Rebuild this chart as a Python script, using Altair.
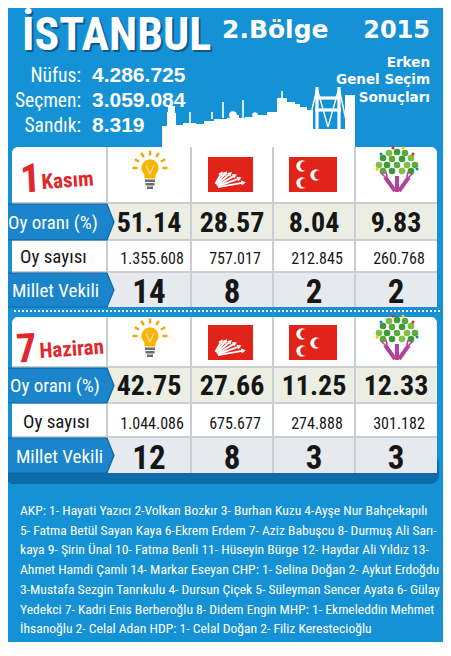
import math
import altair as alt
import pandas as pd

# ---------------- data ----------------
parties = ["AKP", "CHP", "MHP", "HDP"]
kasim_oran = [51.14, 28.57, 8.04, 9.83]
kasim_sayi = [1355608, 757017, 212845, 260768]
kasim_mv = [14, 8, 2, 2]
haziran_oran = [42.75, 27.66, 11.25, 12.33]
haziran_sayi = [1044086, 675677, 274888, 301182]
haziran_mv = [12, 8, 3, 3]
row_labels = ["Oy oranı (%)", "Oy sayısı", "Millet Vekili"]
stat_labels = ["Nüfus:", "Seçmen:", "Sandık:"]
stat_values = [4286725, 3059084, 8319]
title_main = "İSTANBUL"
title_region = "2.Bölge"
title_year = "2015"
subtitle_lines = ["Erken", "Genel Seçim", "Sonuçları"]
date_numbers = ["1", "7"]
date_months = ["Kasım", "Haziran"]
candidate_lines = [
    "AKP:  1- Hayati Yazıcı 2-Volkan Bozkır  3- Burhan Kuzu  4-Ayşe Nur Bahçekapılı",
    "5- Fatma Betül Sayan Kaya  6-Ekrem Erdem 7- Aziz Babuşcu  8- Durmuş Ali Sarı-",
    "kaya  9- Şirin Ünal  10- Fatma Benli  11- Hüseyin Bürge  12- Haydar Ali Yıldız  13-",
    "Ahmet Hamdi Çamlı  14- Markar Eseyan CHP:  1- Selina Doğan 2- Aykut Erdoğdu",
    "3-Mustafa Sezgin Tanrıkulu  4- Dursun Çiçek  5- Süleyman Sencer Ayata 6- Gülay",
    "Yedekci  7- Kadri Enis Berberoğlu  8- Didem Engin MHP: 1- Ekmeleddin Mehmet",
    "İhsanoğlu  2- Celal Adan  HDP: 1- Celal Doğan 2- Filiz Kerestecioğlu",
]

# ---------------- style ----------------
BG = "#1591d6"
TAB = "#1a85ca"
TAB_EDGE = "#0d66a4"
SHADOW = "#0f6cab"
RED = "#e3262b"
LOGO_RED = "#e2231a"
GRID = "#c9ced3"
ROW_ORAN = "#eceee3"
ROW_MV = "#e6eaee"
INK = "#161616"
NARROW = "Roboto Condensed, Liberation Sans, sans-serif"
SANS = "Liberation Sans, Arial, sans-serif"
DEJA = "DejaVu Sans, sans-serif"

W, H = 435, 634
xs = alt.Scale(domain=[8, 8 + W], nice=False, zero=False)
ys = alt.Scale(domain=[8, 8 + H], reverse=True, nice=False, zero=False)
X = lambda f="x": alt.X(f"{f}:Q", scale=xs, axis=None)
Y = lambda f="y": alt.Y(f"{f}:Q", scale=ys, axis=None)
C = alt.Color("c:N", scale=None)

layers = []


def rects(rows, **kw):
    df = pd.DataFrame(rows, columns=["x", "x2", "y", "y2", "c"])
    return alt.Chart(df).mark_rect(**kw).encode(
        x=X("x"), x2=alt.X2("x2"), y=Y("y"), y2=alt.Y2("y2"), color=C)


def rules(rows, width, **kw):
    df = pd.DataFrame(rows, columns=["x", "y", "x2", "y2", "c"])
    return alt.Chart(df).mark_rule(strokeWidth=width, **kw).encode(
        x=X("x"), y=Y("y"), x2=alt.X2("x2"), y2=alt.Y2("y2"), color=C)


def points(rows, shape="circle"):
    df = pd.DataFrame(rows, columns=["x", "y", "s", "c", "a"])
    return alt.Chart(df).mark_point(filled=True, opacity=1, shape=shape, strokeWidth=0).encode(
        x=X("x"), y=Y("y"), size=alt.Size("s:Q", scale=None), color=C,
        angle=alt.Angle("a:Q", scale=None))


def texts(rows, size, font, weight="normal", color="white", align="left", **kw):
    df = pd.DataFrame(rows, columns=["x", "y", "t"])
    return alt.Chart(df).mark_text(
        fontSize=size, font=font, fontWeight=weight, color=color, align=align,
        baseline="alphabetic", **kw).encode(x=X("x"), y=Y("y"), text="t:N")


def tr_num(n):
    return f"{n:,}".replace(",", ".")


# ---------------- background ----------------
layers.append(rects([(5, 444, 3, 649, BG)]))

# skyline silhouette (decoration)
sky = [(162, 126), (167, 112), (168, 106), (175, 113), (176, 125), (183, 123), (196, 124),
       (204, 121), (214, 119), (227, 118), (233, 115), (239, 118), (245, 117), (256, 115),
       (267, 112), (277, 98), (287, 102), (295, 104), (300, 107), (307, 110), (313, 129),
       (345, 95), (355, 95)]
sky_df = pd.DataFrame(sky, columns=["x", "top"]).assign(bot=150)
layers.append(alt.Chart(sky_df).mark_area(color="white", interpolate="step-after", opacity=1).encode(
    x=X("x"), y=Y("top"), y2=alt.Y2("bot")))
layers.append(rules([(171.5, 106, 171.5, 99, "white"), (190, 123, 190, 112, "white"),
                     (212, 119, 212, 112, "white"), (223, 118, 223, 102, "white"),
                     (243, 118, 243, 100, "white"), (282, 98, 282, 91, "white")], 1.6))
layers.append(points([(233, 115, 60, "white", 0), (255, 115, 30, "white", 0)]))
layers.append(rules([(317, 129, 317, 87, "white"), (339, 129, 339, 87, "white"),
                     (315, 98, 341, 98, "white"), (315, 110, 341, 110, "white")], 3.2))
layers.append(rules([(317, 88, 328, 127, "white"), (339, 88, 328, 127, "white"),
                     (317, 88, 308, 127, "white"), (339, 88, 346, 120, "white")], 1.4))

# ---------------- header ----------------
layers.append(texts([(24, 52, title_main)], 46, NARROW, "bold", color="#0b5b92"))
layers.append(texts([(22, 50, title_main)], 46, NARROW, "bold"))
layers.append(texts([(222, 38, title_region)], 25, DEJA, "bold"))
layers.append(texts([(430, 38, title_year)], 24, DEJA, "bold", align="right"))
layers.append(texts([(430, y, t) for y, t in zip([67, 84, 102], subtitle_lines)],
                    13.5, DEJA, "bold", align="right"))
stat_y = [82, 107, 132]
layers.append(texts([(81, y, t) for y, t in zip(stat_y, stat_labels)], 19.5, NARROW, align="right"))
layers.append(texts([(92, y, tr_num(v)) for y, v in zip(stat_y, stat_values)], 21, SANS, "bold"))

# ---------------- tables ----------------
col_edges = [12, 107, 191, 273, 355, 437]
centers = [(col_edges[i + 1] + col_edges[i + 2]) / 2 for i in range(4)]
tables = [
    dict(rows=[147, 203, 240, 272, 307], oran=kasim_oran, sayi=kasim_sayi, mv=kasim_mv, dy=0,
         num=(31, 192), month=(42, 189)),
    dict(rows=[317, 367, 403, 437, 473], oran=haziran_oran, sayi=haziran_sayi, mv=haziran_mv, dy=168,
         num=(27, 362), month=(40, 358)),
]

# shadow under second table
layers.append(rects([(5, 439, 455, 484, SHADOW)], cornerRadius=9))

for k, tb in enumerate(tables):
    r = tb["rows"]
    layers.append(rects([(12, 437, r[0], r[4], "white")], cornerRadius=6))
    layers.append(rects([(col_edges[1], 437, r[1], r[2], ROW_ORAN),
                         (col_edges[1], 437, r[3], r[4], ROW_MV)]))
    grid = [(col_edges[i], r[0], col_edges[i], r[4], GRID) for i in range(1, 5)]
    grid += [(12, r[j], 437, r[j], GRID) for j in (1, 2, 3)]
    layers.append(rules(grid, 2))
    # arrow tabs
    tabrows = []
    for tid, (t, b) in enumerate([(r[1] + 1, r[2]), (r[3] + 1, r[4])]):
        m = (t + b) / 2
        tabrows += [(f"{k}{tid}", 3, t, b), (f"{k}{tid}", 107, t, b), (f"{k}{tid}", 114, m, m)]
    tab_df = pd.DataFrame(tabrows, columns=["id", "x", "top", "bot"])
    layers.append(alt.Chart(tab_df).mark_area(color=TAB, stroke=TAB_EDGE, strokeWidth=1.2,
                                              interpolate="linear", opacity=1).encode(
        x=X("x"), y=Y("top"), y2=alt.Y2("bot"), detail="id:N"))
    # cell values
    layers.append(texts([(cx, r[2] - 8, f"{v:.2f}") for cx, v in zip(centers, tb["oran"])],
                        28, NARROW, "bold", color=INK, align="center"))
    layers.append(texts([(cx + 3, r[3] - 8, tr_num(v)) for cx, v in zip(centers, tb["sayi"])],
                        16, NARROW, color=INK, align="center"))
    layers.append(texts([(cx, r[4] - 4, str(v)) for cx, v in zip(centers, tb["mv"])],
                        33, NARROW, "bold", color=INK, align="center"))
    # row labels
    layers.append(texts([(8 + 2 * k, r[2] - 11, row_labels[0]), (12 + 4 * k, r[4] - 10, row_labels[2])],
                        19, NARROW))
    layers.append(texts([(20 + 3 * k, r[3] - 9, row_labels[1])], 19, NARROW, color=INK))
    # date label
    layers.append(texts([(tb["num"][0], tb["num"][1], date_numbers[k])], 40, NARROW, "bold",
                        color=RED, align="center", angle=357))
    layers.append(texts([(tb["month"][0], tb["month"][1], date_months[k])], 21, NARROW, "bold",
                        color=RED, angle=356))

    dy = tb["dy"]
    # --- AKP bulb ---
    cx, cy = 150, 168 + dy
    rays = []
    for ang in [0, 30, 60, 90, 120, 150, 180]:
        a = math.radians(ang)
        rays.append((cx + 12.5 * math.cos(a), cy - 12.5 * math.sin(a),
                     cx + 17.5 * math.cos(a), cy - 17.5 * math.sin(a), "#f6a500"))
    layers.append(rules(rays, 2.4))
    layers.append(points([(cx, cy, 300, "#f8b400", 0)]))
    layers.append(rects([(cx - 5.5, cx + 5.5, cy + 6, cy + 10.5, "#f8b400"),
                         (cx - 5, cx + 5, cy + 11.5, cy + 14, "#6b6b6b"),
                         (cx - 4.5, cx + 4.5, cy + 15, cy + 17.5, "#6b6b6b"),
                         (cx - 3, cx + 3, cy + 18.5, cy + 21, "#6b6b6b")]))
    layers.append(rules([(cx - 4, cy - 3, cx, cy + 6, "#fde7a0"), (cx + 4, cy - 3, cx, cy + 6, "#fde7a0")], 1.2))
    # --- CHP ---
    layers.append(rects([(208, 253, 157 + dy, 192 + dy, LOGO_RED)]))
    ox, oy = 213, 188 + dy
    arr, heads = [], []
    for ang in [10, 20, 30, 40, 50, 60]:
        a = math.radians(ang)
        L = 31 - (ang - 10) * 0.28
        arr.append((ox + 5 * math.cos(a), oy - 5 * math.sin(a),
                    ox + L * math.cos(a), oy - L * math.sin(a), "white"))
        heads.append((ox + L * math.cos(a), oy - L * math.sin(a), 26, "white", 360 - ang))
    layers.append(rules(arr, 2))
    layers.append(points(heads, shape="triangle-right"))
    # --- MHP ---
    layers.append(rects([(289, 337, 157 + dy, 192 + dy, LOGO_RED)]))
    cres = [(302, 166 + dy), (302, 183 + dy), (316, 175 + dy)]
    layers.append(points([(x, y, 133, "white", 0) for x, y in cres]))
    layers.append(points([(x + 2.8, y, 88, LOGO_RED, 0) for x, y in cres]))
    # --- HDP ---
    hx, hy = 397, 164 + dy
    leaves = [(0, -12), (-8, -11), (8, -11), (-14, -6), (14, -6), (-5, -5), (5, -5),
              (-18, 1), (18, 1), (-10, 1), (10, 1), (0, 1), (-5, 7), (5, 7), (-14, 7), (14, 7)]
    greens = ["#3e9a36", "#7bbf43", "#58ab3a"]
    layers.append(points([(hx + a, hy + b, 44, greens[i % 3], 0) for i, (a, b) in enumerate(leaves)]))
    layers.append(points([(hx - 4, hy - 16, 10, "#e4262b", 0), (hx + 6, hy - 16, 10, "#f7c600", 0),
                          (hx - 16, hy - 10, 10, "#2b78c4", 0), (hx + 16, hy - 10, 10, "#e4262b", 0),
                          (hx - 20, hy + 5, 10, "#f7c600", 0), (hx + 20, hy + 5, 10, "#2b78c4", 0)]))
    purple = "#b0449a"
    layers.append(rules([(hx, hy + 28, hx, hy + 12, purple),
                         (hx - 2, hy + 27, hx - 12, hy + 13, purple),
                         (hx + 2, hy + 27, hx + 12, hy + 13, purple)], 4))
    layers.append(rules([(hx - 12, hy + 13, hx - 16, hy + 9, purple), (hx - 10, hy + 13, hx - 11, hy + 8, purple),
                         (hx + 12, hy + 13, hx + 16, hy + 9, purple), (hx + 10, hy + 13, hx + 11, hy + 8, purple)], 1.6))

# dotted separator
layers.append(rules([(14, 311, 440, 311, "white")], 2, strokeDash=[2, 2]))

# candidate list
layers.append(texts([(20, 515 + i * 19.7, t) for i, t in enumerate(candidate_lines)], 13.6, NARROW))

chart = alt.layer(*layers).properties(
    width=W, height=H, padding=0, autosize=alt.AutoSizeParams(type="none"), background="white"
).configure_view(strokeWidth=0)

chart.save("out.html", embed_options={"renderer": "svg", "actions": False})
